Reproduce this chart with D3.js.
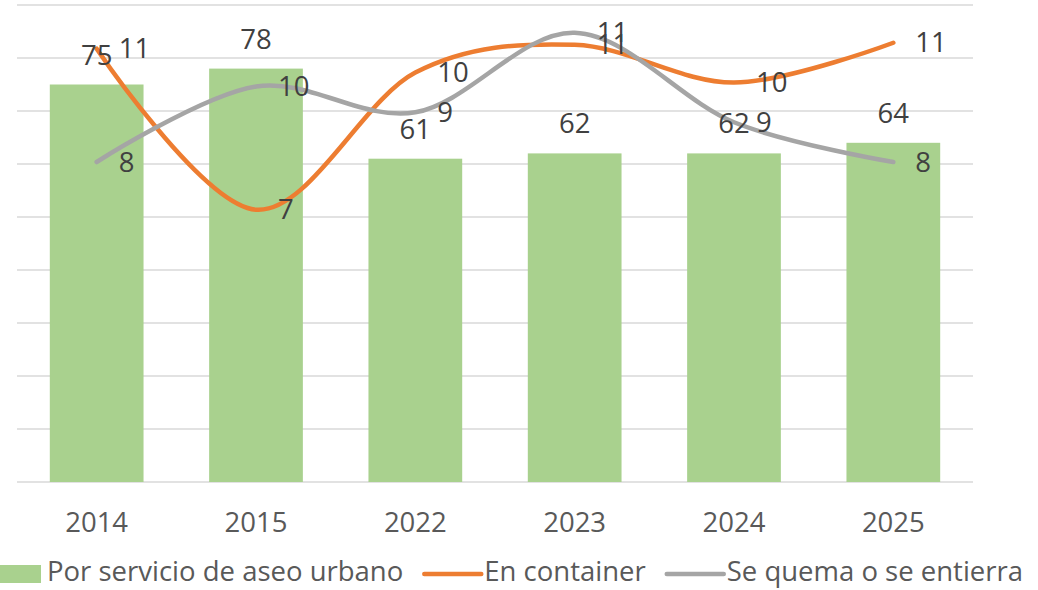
<!DOCTYPE html>
<html>
<head>
<meta charset="utf-8">
<script src="https://cdn.jsdelivr.net/npm/d3@7"></script>
<style>
  body { margin: 0; background: #fff; }
  text { font-family: "Open Sans", Lato, sans-serif; }
</style>
</head>
<body>
<div id="chart"></div>
<script>
// data
var years = ["2014", "2015", "2022", "2023", "2024", "2025"];
var aseoUrbano = [75, 78, 61, 62, 62, 64];
var enContainer = [10.9, 6.85, 10.3, 11.0, 10.05, 11.05];
var seQuema = [8.05, 9.95, 9.3, 11.3, 9.05, 8.05];
var seriesNames = ["Por servicio de aseo urbano", "En container", "Se quema o se entierra"];

var width = 1038;
var height = 590;

var margin = {
        top: 5,
        right: 65,
        bottom: 108,
        left: 17
    };

var fontSize = 27.5;

var svg = d3
    .select('#chart')
    .append('svg')
    .attr('width', width)
    .attr('height', height);

var x = d3.scaleBand()
    .domain(years)
    .range([margin.left, width - margin.right])
    .padding(0);

var barWidth = x.step() / 1.7;

// primary axis for bars, secondary (hidden) axis for the lines
var y = d3.scaleLinear()
    .domain([0, 90])
    .range([height - margin.bottom, margin.top]);

var y2 = d3.scaleLinear()
    .domain([0, 12])
    .range([height - margin.bottom, margin.top]);

function cx(d) { return x(d) + x.step() / 2; }

// gridlines
svg.append('g')
    .selectAll('line')
    .data(y.ticks(9))
    .enter()
    .append('line')
    .attr('x1', margin.left)
    .attr('x2', width - margin.right)
    .attr('y1', function(d) { return y(d); })
    .attr('y2', function(d) { return y(d); })
    .attr('stroke', '#d9d9d9')
    .attr('stroke-width', 1.5);

// bars
svg.append('g')
    .selectAll('rect')
    .data(aseoUrbano)
    .enter()
    .append('rect')
    .attr('x', function(d, i) { return cx(years[i]) - barWidth / 2; })
    .attr('y', function(d) { return y(d); })
    .attr('width', barWidth)
    .attr('height', function(d) { return y(0) - y(d); })
    .attr('fill', '#a9d18e');

// smooth lines like excel
var line = d3.line()
    .x(function(d, i) { return cx(years[i]); })
    .y(function(d) { return y2(d); })
    .curve(d3.curveCardinal.tension(0));

var lines = [
    { values: enContainer, color: '#ed7d31' },
    { values: seQuema, color: '#a5a5a5' }
];

svg.append('g')
    .selectAll('path')
    .data(lines)
    .enter()
    .append('path')
    .attr('d', function(d) { return line(d.values); })
    .attr('fill', 'none')
    .attr('stroke', function(d) { return d.color; })
    .attr('stroke-width', 4.5)
    .attr('stroke-linecap', 'round');

// bar labels
svg.append('g')
    .selectAll('text')
    .data(aseoUrbano)
    .enter()
    .append('text')
    .attr('x', function(d, i) { return cx(years[i]); })
    .attr('y', function(d) { return y(d) - 20; })
    .attr('text-anchor', 'middle')
    .attr('font-size', fontSize)
    .attr('fill', '#404040')
    .text(function(d) { return d3.format('.0f')(d); });

// line labels, to the right of each point
lines.forEach(function(s) {
    svg.append('g')
        .selectAll('text')
        .data(s.values)
        .enter()
        .append('text')
        .attr('x', function(d, i) { return cx(years[i]) + 22; })
        .attr('y', function(d) { return y2(d); })
        .attr('dy', '0.35em')
        .attr('font-size', fontSize)
        .attr('fill', '#404040')
        .text(function(d) { return d3.format('.0f')(d); });
});

// category labels
svg.append('g')
    .selectAll('text')
    .data(years)
    .enter()
    .append('text')
    .attr('x', function(d) { return cx(d); })
    .attr('y', y(0) + 50)
    .attr('text-anchor', 'middle')
    .attr('font-size', fontSize)
    .attr('fill', '#595959')
    .text(function(d) { return d; });

// legend
var legend = svg.append('g').attr('transform', 'translate(0,574)');
var lx = 0;

legend.append('rect')
    .attr('x', lx)
    .attr('y', -9)
    .attr('width', 41)
    .attr('height', 18)
    .attr('fill', '#a9d18e');
lx += 47;

var markerColors = [null, '#ed7d31', '#a5a5a5'];
seriesNames.forEach(function(name, i) {
    if (i > 0) {
        legend.append('line')
            .attr('x1', lx)
            .attr('x2', lx + 57)
            .attr('y1', 0)
            .attr('y2', 0)
            .attr('stroke', markerColors[i])
            .attr('stroke-width', 4.5)
            .attr('stroke-linecap', 'round');
        lx += 60;
    }
    var t = legend.append('text')
        .attr('x', lx)
        .attr('y', 7)
        .attr('font-size', fontSize)
        .attr('fill', '#595959')
        .text(name);
    lx += t.node().getComputedTextLength() + 21;
});
</script>
</body>
</html>
